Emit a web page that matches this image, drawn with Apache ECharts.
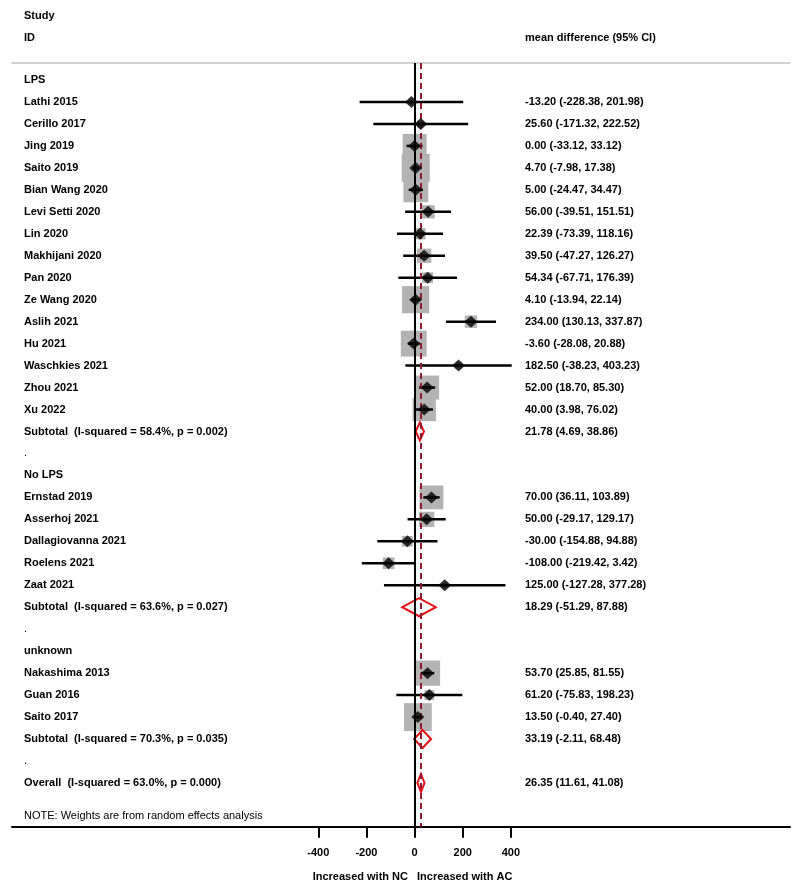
<!DOCTYPE html>
<html><head><meta charset="utf-8">
<script src="https://cdn.jsdelivr.net/npm/echarts@6/dist/echarts.min.js"></script>
<style>html,body{margin:0;padding:0;background:#fff}#c{width:800px;height:891px}</style>
</head><body><div id="c"></div>
<script>
// ---------------- data ----------------
const groupNames = ['LPS', 'No LPS', 'unknown'];
const studyNames = ['Lathi 2015','Cerillo 2017','Jing 2019','Saito 2019','Bian Wang 2020','Levi Setti 2020','Lin 2020','Makhijani 2020','Pan 2020','Ze Wang 2020','Aslih 2021','Hu 2021','Waschkies 2021','Zhou 2021','Xu 2022',
  'Ernstad 2019','Asserhoj 2021','Dallagiovanna 2021','Roelens 2021','Zaat 2021',
  'Nakashima 2013','Guan 2016','Saito 2017'];
const studyGroup = [0,0,0,0,0,0,0,0,0,0,0,0,0,0,0, 1,1,1,1,1, 2,2,2];
const meanDiff = [-13.20, 25.60, 0.00, 4.70, 5.00, 56.00, 22.39, 39.50, 54.34, 4.10, 234.00, -3.60, 182.50, 52.00, 40.00,
  70.00, 50.00, -30.00, -108.00, 125.00,
  53.70, 61.20, 13.50];
const ciLower = [-228.38, -171.32, -33.12, -7.98, -24.47, -39.51, -73.39, -47.27, -67.71, -13.94, 130.13, -28.08, -38.23, 18.70, 3.98,
  36.11, -29.17, -154.88, -219.42, -127.28,
  25.85, -75.83, -0.40];
const ciUpper = [201.98, 222.52, 33.12, 17.38, 34.47, 151.51, 118.16, 126.27, 176.39, 22.14, 337.87, 20.88, 403.23, 85.30, 76.02,
  103.89, 129.17, 94.88, 3.42, 377.28,
  81.55, 198.23, 27.40];
// estimated random-effects weights (%)
const weightPct = [0.52, 0.61, 7.16, 9.74, 7.65, 2.19, 1.60, 2.54, 1.46, 9.16, 1.91, 8.33, 0.49, 7.14, 6.78,
  7.06, 2.91, 1.40, 1.71, 0.38,
  7.88, 1.19, 9.62];
const subtotalMD = [21.78, 18.29, 33.19];
const subtotalLower = [4.69, -51.29, -2.11];
const subtotalUpper = [38.86, 87.88, 68.48];
const subtotalI2 = ['58.4%', '63.6%', '70.3%'];
const subtotalP = ['0.002', '0.027', '0.035'];
const overallMD = 26.35, overallLower = 11.61, overallUpper = 41.08;
const overallI2 = '63.0%', overallP = '0.000';
const xTicks = [-400, -200, 0, 200, 400];
const xTitles = ['Increased with NC', 'Increased with AC'];

// ---------------- build rows ----------------
const FONT = '"Liberation Sans", Arial, sans-serif';
const fmt = (e, l, h) => e.toFixed(2) + ' (' + l.toFixed(2) + ', ' + h.toFixed(2) + ')';
const textItems = [];   // {row, x, text, bold}
const studyPts = [];    // [est, row, w]
const ciSegs = [];      // [lo, hi, row]
const pooled = [];      // [lo, est, hi, row]
const LEFT_X = 24, RIGHT_X = 525;
textItems.push({row: -2.92, x: LEFT_X, text: 'Study', bold: true});
textItems.push({row: -1.92, x: LEFT_X, text: 'ID', bold: true});
textItems.push({row: -1.92, x: RIGHT_X, text: 'mean difference (95% CI)', bold: true});
let row = 0;
groupNames.forEach((g, gi) => {
  textItems.push({row, x: LEFT_X, text: g, bold: true}); row++;
  studyNames.forEach((s, i) => {
    if (studyGroup[i] !== gi) return;
    textItems.push({row, x: LEFT_X, text: s, bold: true});
    textItems.push({row, x: RIGHT_X, text: fmt(meanDiff[i], ciLower[i], ciUpper[i]), bold: true});
    studyPts.push([meanDiff[i], row, weightPct[i]]);
    ciSegs.push([ciLower[i], ciUpper[i], row]);
    row++;
  });
  textItems.push({row, x: LEFT_X, text: 'Subtotal  (I-squared = ' + subtotalI2[gi] + ', p = ' + subtotalP[gi] + ')', bold: true});
  textItems.push({row, x: RIGHT_X, text: fmt(subtotalMD[gi], subtotalLower[gi], subtotalUpper[gi]), bold: true});
  pooled.push([subtotalLower[gi], subtotalMD[gi], subtotalUpper[gi], row]);
  row++;
  textItems.push({row, x: LEFT_X, text: '.', bold: false}); row++;
});
textItems.push({row, x: LEFT_X, text: 'Overall  (I-squared = ' + overallI2 + ', p = ' + overallP + ')', bold: true});
textItems.push({row, x: RIGHT_X, text: fmt(overallMD, overallLower, overallUpper), bold: true});
pooled.push([overallLower, overallMD, overallUpper, row]);

const BOX_K = 8.97;

const chart = echarts.init(document.getElementById('c'), null, {renderer: 'canvas'});
chart.setOption({
  animation: false,
  backgroundColor: '#fff',
  grid: {left: 12, right: 10, top: 63, bottom: 64.3, containLabel: false},
  xAxis: [{
    type: 'value', position: 'bottom', min: -1672, max: 1559,
    axisLine: {show: true, onZero: false, lineStyle: {color: '#000', width: 2}},
    axisTick: {show: true, customValues: xTicks, length: 11, lineStyle: {color: '#000', width: 2}},
    axisLabel: {show: true, customValues: xTicks, margin: 21, color: '#000', fontFamily: FONT, fontSize: 11, fontWeight: 'bold'},
    splitLine: {show: false}
  }, {
    type: 'value', position: 'top', min: -1672, max: 1559,
    axisLine: {show: true, onZero: false, lineStyle: {color: '#c4c4c4', width: 1.5}},
    axisTick: {show: false}, axisLabel: {show: false}, splitLine: {show: false}
  }],
  yAxis: {
    type: 'value', inverse: true, min: -0.774, max: 33.99, show: false
  },
  graphic: [
    {type: 'text', left: LEFT_X, top: 810, style: {text: 'NOTE: Weights are from random effects analysis', font: '11px ' + FONT, fill: '#000'}},
    {type: 'text', right: 800 - 408, top: 871, style: {text: xTitles[0], font: 'bold 11px ' + FONT, fill: '#000'}},
    {type: 'text', left: 417, top: 871, style: {text: xTitles[1], font: 'bold 11px ' + FONT, fill: '#000'}}
  ],
  series: [
    {
      type: 'scatter', data: [], z: 1, silent: true,
      markLine: {
        silent: true, symbol: ['none', 'none'], label: {show: false}, animation: false,
        data: [
          {xAxis: 0, lineStyle: {color: '#000', type: 'solid', width: 2}},
          {xAxis: overallMD, lineStyle: {color: '#8e1b2e', type: [6, 4], width: 2}}
        ]
      }
    },
    {
      type: 'custom', z: 2, silent: true, data: studyPts, encode: {x: 0, y: 1},
      renderItem: (params, api) => {
        const p = api.coord([api.value(0), api.value(1)]);
        const s = BOX_K * Math.sqrt(api.value(2));
        return {type: 'rect', shape: {x: p[0] - s / 2, y: p[1] - s / 2, width: s, height: s}, style: {fill: '#b3b3b3'}};
      }
    },
    {
      type: 'custom', z: 3, silent: true, data: ciSegs, encode: {x: [0, 1], y: 2},
      renderItem: (params, api) => {
        const a = api.coord([api.value(0), api.value(2)]);
        const b = api.coord([api.value(1), api.value(2)]);
        return {type: 'line', shape: {x1: a[0], y1: a[1], x2: b[0], y2: b[1]}, style: {stroke: '#000', lineWidth: 2.5}};
      }
    },
    {
      type: 'scatter', z: 5, silent: true, data: studyPts.map(d => [d[0], d[1]]),
      symbol: 'diamond', symbolSize: [13, 12], itemStyle: {color: '#000'}
    },
    {
      type: 'custom', z: 4, silent: true, data: pooled, encode: {x: [0, 1, 2], y: 3},
      renderItem: (params, api) => {
        const r = api.value(3), h = 0.41;
        const pts = [
          api.coord([api.value(0), r]),
          api.coord([api.value(1), r - h]),
          api.coord([api.value(2), r]),
          api.coord([api.value(1), r + h])
        ];
        return {type: 'polygon', shape: {points: pts}, style: {fill: 'none', stroke: '#e3141b', lineWidth: 2}};
      }
    },
    {
      type: 'custom', z: 6, silent: true, data: textItems.map(t => [0, t.row]), encode: {x: 0, y: 1},
      renderItem: (params, api) => {
        const t = textItems[params.dataIndex];
        const y = api.coord([0, t.row])[1];
        return {type: 'text', x: t.x, y: y, style: {
          text: t.text, font: (t.bold ? 'bold ' : '') + '11px ' + FONT, fill: '#000',
          align: 'left', verticalAlign: 'middle', textAlign: 'left', textVerticalAlign: 'middle'
        }};
      }
    }
  ]
});
</script>
</body></html>
